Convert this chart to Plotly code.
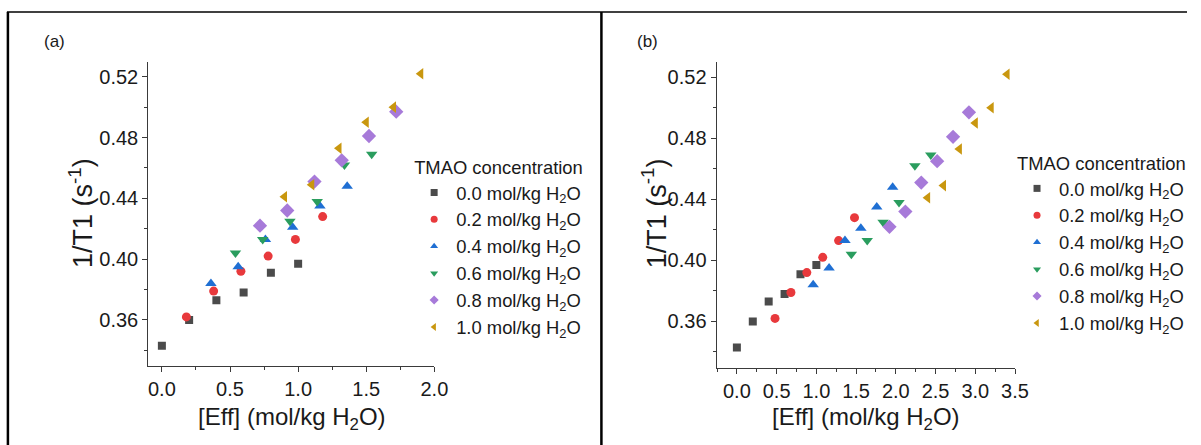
import plotly.graph_objects as go

W, H = 1201, 445

# ---------------- data ----------------
tmao_labels = ["0.0 mol/kg H<sub>2</sub>O", "0.2 mol/kg H<sub>2</sub>O", "0.4 mol/kg H<sub>2</sub>O",
               "0.6 mol/kg H<sub>2</sub>O", "0.8 mol/kg H<sub>2</sub>O", "1.0 mol/kg H<sub>2</sub>O"]

# panel (a) [Eff] values
eff_a_00 = [0.0, 0.2, 0.4, 0.6, 0.8, 1.0]
eff_a_02 = [0.18, 0.38, 0.58, 0.78, 0.98, 1.18]
eff_a_04 = [0.36, 0.56, 0.76, 0.96, 1.16, 1.36]
eff_a_06 = [0.54, 0.74, 0.94, 1.14, 1.34, 1.54]
eff_a_08 = [0.72, 0.92, 1.12, 1.32, 1.52, 1.72]
eff_a_10 = [0.90, 1.10, 1.30, 1.50, 1.70, 1.90]

# panel (b) [Eff] values
eff_b_00 = [0.0, 0.2, 0.4, 0.6, 0.8, 1.0]
eff_b_02 = [0.48, 0.68, 0.88, 1.08, 1.28, 1.48]
eff_b_04 = [0.96, 1.16, 1.36, 1.56, 1.76, 1.96]
eff_b_06 = [1.44, 1.64, 1.84, 2.04, 2.24, 2.44]
eff_b_08 = [1.92, 2.12, 2.32, 2.52, 2.72, 2.92]
eff_b_10 = [2.40, 2.60, 2.80, 3.00, 3.20, 3.40]

# 1/T1 values (same in both panels)
r1_00 = [0.343, 0.360, 0.373, 0.378, 0.391, 0.397]
r1_02 = [0.362, 0.379, 0.392, 0.402, 0.413, 0.428]
r1_04 = [0.384, 0.395, 0.413, 0.421, 0.435, 0.448]
r1_06 = [0.404, 0.413, 0.425, 0.438, 0.462, 0.469]
r1_08 = [0.422, 0.432, 0.451, 0.465, 0.481, 0.497]
r1_10 = [0.441, 0.449, 0.473, 0.490, 0.500, 0.522]

eff_a = [eff_a_00, eff_a_02, eff_a_04, eff_a_06, eff_a_08, eff_a_10]
eff_b = [eff_b_00, eff_b_02, eff_b_04, eff_b_06, eff_b_08, eff_b_10]
r1 = [r1_00, r1_02, r1_04, r1_06, r1_08, r1_10]

colors = ["#4b4b4b", "#e8393c", "#1f6fd3", "#2a9d5e", "#a77ad9", "#c9970f"]
symbols = ["square", "circle", "triangle-up", "triangle-down", "diamond", "triangle-left"]
sizes = [8, 9, 10, 10, 11, 10]

FONT = "Liberation Sans, Arial, sans-serif"
TXT = "#1a1a1a"

fig = go.Figure()

for i in range(6):
    # panel (a)
    fig.add_trace(go.Scatter(x=eff_a[i], y=r1[i], mode="markers", xaxis="x", yaxis="y",
                             marker=dict(symbol=symbols[i], color=colors[i], size=sizes[i]),
                             showlegend=False))
    # panel (b)
    fig.add_trace(go.Scatter(x=eff_b[i], y=r1[i], mode="markers", xaxis="x2", yaxis="y2",
                             marker=dict(symbol=symbols[i], color=colors[i], size=sizes[i]),
                             showlegend=False))
# legend entries (smaller symbols, as in the reference legends)
for i in range(6):
    for lg in ["legend", "legend2"]:
        fig.add_trace(go.Scatter(x=[None], y=[None], mode="markers", name=tmao_labels[i],
                                 marker=dict(symbol=symbols[i], color=colors[i], size=7),
                                 legend=lg, legendgroup=f"{lg}_{i}", showlegend=True,
                                 xaxis="x" if lg == "legend" else "x2",
                                 yaxis="y" if lg == "legend" else "y2"))

def px_x(p):
    return p / W

def px_y(p):
    return 1 - p / H

axis_common = dict(showline=True, linecolor="#3a3a3a", linewidth=1, showgrid=False, zeroline=False,
                   ticks="outside", ticklen=5, tickwidth=1, tickcolor="#3a3a3a",
                   tickfont=dict(family=FONT, size=20, color=TXT), mirror=False)

LEG_FONT = dict(family=FONT, size=18.4, color=TXT)

fig.update_layout(
    width=W, height=H, margin=dict(l=0, r=0, t=0, b=0),
    paper_bgcolor="white", plot_bgcolor="white",
    xaxis=dict(**axis_common, domain=[px_x(150), px_x(439.5)], range=[-0.1, 2.0], anchor="y",
               tick0=0, dtick=0.5, tickformat=".1f",
               minor=dict(ticks="outside", ticklen=3, dtick=0.25, tick0=0, tickcolor="#3a3a3a")),
    yaxis=dict(**axis_common, domain=[px_y(366), px_y(62)], range=[0.3297, 0.5297], anchor="x",
               tick0=0.36, dtick=0.04, tickformat=".2f",
               minor=dict(ticks="outside", ticklen=3, dtick=0.02, tick0=0.36, tickcolor="#3a3a3a")),
    xaxis2=dict(**axis_common, domain=[px_x(725), px_x(1027)], range=[-0.256, 3.5], anchor="y2",
                tick0=0, dtick=0.5, tickformat=".1f",
                minor=dict(ticks="outside", ticklen=3, dtick=0.25, tick0=0, tickcolor="#3a3a3a")),
    yaxis2=dict(**axis_common, domain=[px_y(368), px_y(62)], range=[0.3295, 0.530], anchor="x2",
                tick0=0.36, dtick=0.04, tickformat=".2f",
                minor=dict(ticks="outside", ticklen=3, dtick=0.02, tick0=0.36, tickcolor="#3a3a3a")),
    legend=dict(x=px_x(417), y=px_y(150), xanchor="left", yanchor="top",
                bgcolor="rgba(0,0,0,0)", traceorder="grouped", tracegroupgap=0, itemwidth=34,
                font=LEG_FONT, title=dict(text="TMAO concentration", font=LEG_FONT)),
    legend2=dict(x=px_x(1027), y=px_y(146), xanchor="left", yanchor="top",
                 bgcolor="rgba(0,0,0,0)", traceorder="grouped", tracegroupgap=0, itemwidth=34,
                 font=LEG_FONT, title=dict(text="TMAO concentration", font=LEG_FONT)),
)

ann = []
# panel labels
ann.append(dict(text="(a)", x=px_x(55), y=px_y(42), xref="paper", yref="paper", showarrow=False,
                font=dict(family=FONT, size=17, color=TXT), xanchor="center", yanchor="middle"))
ann.append(dict(text="(b)", x=px_x(655), y=px_y(42), xref="paper", yref="paper", showarrow=False,
                font=dict(family=FONT, size=17, color=TXT), xanchor="center", yanchor="middle"))
# axis titles
for xc in [82, 662]:
    ann.append(dict(text="1/T1 (s<sup>-1</sup>)", x=px_x(xc), y=px_y(213), xref="paper", yref="paper",
                    showarrow=False, textangle=-90, font=dict(family=FONT, size=27, color=TXT),
                    xanchor="center", yanchor="middle"))
for xc in [295, 876]:
    ann.append(dict(text="[Eff] (mol/kg H<sub>2</sub>O)", x=px_x(xc), y=px_y(418), xref="paper",
                    yref="paper", showarrow=False, font=dict(family=FONT, size=24, color=TXT),
                    xanchor="center", yanchor="middle"))
fig.update_layout(annotations=ann)

# table frame lines
shapes = [
    dict(type="line", xref="paper", yref="paper", x0=px_x(7), x1=1, y0=px_y(12), y1=px_y(12),
         line=dict(color="black", width=1.5)),
    dict(type="line", xref="paper", yref="paper", x0=px_x(8), x1=px_x(8), y0=px_y(12), y1=0,
         line=dict(color="black", width=2.5)),
    dict(type="line", xref="paper", yref="paper", x0=px_x(608.5), x1=px_x(608.5), y0=px_y(12), y1=0,
         line=dict(color="black", width=2.5)),
]
fig.update_layout(shapes=shapes)

fig.write_html("out.html")
